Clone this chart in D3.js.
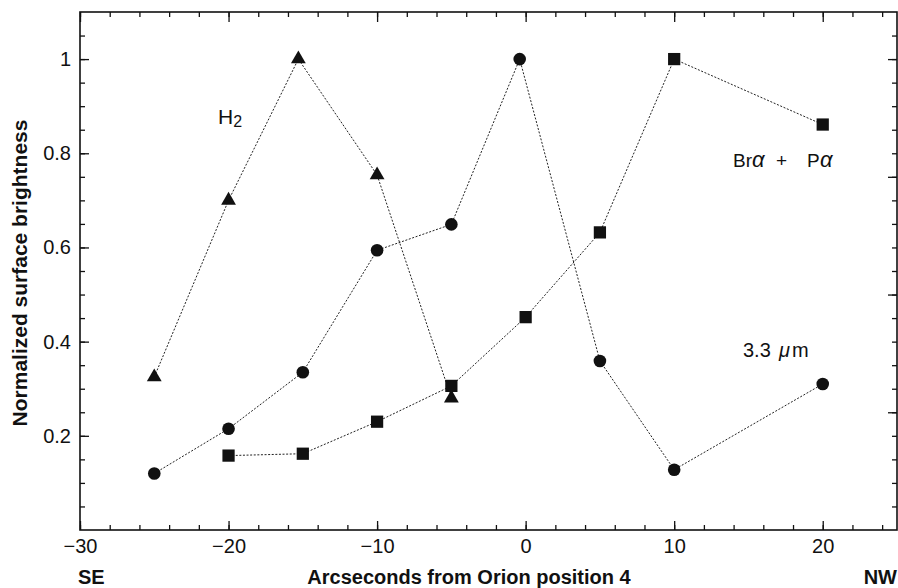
<!DOCTYPE html>
<html>
<head>
<meta charset="utf-8">
<title>Orion position 4</title>
<script src="https://d3js.org/d3.v7.min.js"></script>
<style>
  html, body { margin: 0; padding: 0; background: #fff; }
  svg text { font-family: "Liberation Sans", Arial, Helvetica, sans-serif; fill: #111; }
  .tick line { stroke: #111; stroke-width: 1.3px; }
  .series { fill: none; stroke: #222; stroke-width: 1px; stroke-dasharray: 2,1.6; }
</style>
</head>
<body>
<script>
// values
let h2X = [-25, -20, -15.3, -10, -5];
let h2Y = [0.325, 0.70, 1.0, 0.754, 0.28];

let pahX = [-25, -20, -15, -10, -5, -0.4, 5, 10, 20];
let pahY = [0.12, 0.215, 0.335, 0.594, 0.649, 1.0, 0.359, 0.128, 0.31];

let brX = [-20, -15, -10, -5, 0, 5, 10, 20];
let brY = [0.158, 0.162, 0.23, 0.306, 0.452, 0.632, 1.0, 0.861];

let xTicks = [-30, -20, -10, 0, 10, 20];
let yTicks = [0.2, 0.4, 0.6, 0.8, 1];

let W = 898, H = 588;
let pLeft = 80, pRight = 897, pTop = 12, pBottom = 530;

let svg = d3.select("body").append("svg")
  .attr("width", W)
  .attr("height", H);

let x = d3.scaleLinear().domain([-30, 25]).range([pLeft, pRight]);
let y = d3.scaleLinear().domain([0, 1.1]).range([pBottom, pTop]);

let minorX = d3.range(-30, 25.01, 2);
let minorY = d3.range(0.05, 1.1, 0.05);
let rightMajor = [0.25, 0.5, 0.75, 1.0];

function clean(g) { g.select(".domain").remove(); }

// bottom
svg.append("g").attr("transform", "translate(0," + pBottom + ")")
  .call(d3.axisBottom(x).tickValues(minorX).tickFormat("").tickSize(-5)).call(clean);
svg.append("g").attr("transform", "translate(0," + pBottom + ")")
  .call(d3.axisBottom(x).tickValues(xTicks).tickSize(-9).tickPadding(9)
    .tickFormat(d => d < 0 ? "\u2212" + Math.abs(d) : d))
  .call(clean)
  .selectAll("text").style("font-size", "20px").attr("font-family", null);

// top
svg.append("g").attr("transform", "translate(0," + pTop + ")")
  .call(d3.axisTop(x).tickValues(minorX).tickFormat("").tickSize(-5)).call(clean);
svg.append("g").attr("transform", "translate(0," + pTop + ")")
  .call(d3.axisTop(x).tickValues(xTicks).tickFormat("").tickSize(-10)).call(clean);

// left
svg.append("g").attr("transform", "translate(" + pLeft + ",0)")
  .call(d3.axisLeft(y).tickValues(minorY).tickFormat("").tickSize(-5)).call(clean);
svg.append("g").attr("transform", "translate(" + pLeft + ",0)")
  .call(d3.axisLeft(y).tickValues(yTicks).tickSize(-9).tickPadding(9)
    .tickFormat(d => d === 1 ? "1" : d3.format(".1f")(d)))
  .call(clean)
  .selectAll("text").style("font-size", "20px").attr("font-family", null);

// right
svg.append("g").attr("transform", "translate(" + pRight + ",0)")
  .call(d3.axisRight(y).tickValues(minorY).tickFormat("").tickSize(-5)).call(clean);
svg.append("g").attr("transform", "translate(" + pRight + ",0)")
  .call(d3.axisRight(y).tickValues(rightMajor).tickFormat("").tickSize(-9)).call(clean);

// frame
svg.append("rect")
  .attr("x", pLeft).attr("y", pTop)
  .attr("width", pRight - pLeft).attr("height", pBottom - pTop)
  .attr("fill", "none").attr("stroke", "#111").attr("stroke-width", 1.6);

// series
let line = d3.line().x(d => x(d[0])).y(d => y(d[1]));
let series = [
  { xs: h2X, ys: h2Y, sym: d3.symbolTriangle, size: 95 },
  { xs: pahX, ys: pahY, sym: d3.symbolCircle, size: 125 },
  { xs: brX, ys: brY, sym: d3.symbolSquare, size: 150 }
];

series.forEach(function(s) {
  let pts = s.xs.map((v, i) => [v, s.ys[i]]);
  svg.append("path").attr("class", "series").attr("d", line(pts));
  svg.append("g").selectAll("path")
    .data(pts)
    .join("path")
    .attr("transform", d => "translate(" + x(d[0]) + "," + y(d[1]) + ")")
    .attr("d", d3.symbol().type(s.sym).size(s.size))
    .attr("fill", "#111");
});

// labels
let h2 = svg.append("text").attr("x", 218).attr("y", 124).style("font-size", "21px");
h2.append("tspan").text("H");
h2.append("tspan").attr("dy", 3).style("font-size", "16px").text("2");

let br = svg.append("text").attr("y", 167).style("font-size", "19px");
br.append("tspan").attr("x", 733).text("Br");
br.append("tspan").attr("x", 752).style("font-style", "italic").style("font-size", "22px").text("\u03b1");
br.append("tspan").attr("x", 776).text("+");
br.append("tspan").attr("x", 807).text("P");
br.append("tspan").attr("x", 820).style("font-style", "italic").style("font-size", "22px").text("\u03b1");

let um = svg.append("text").attr("y", 357).style("font-size", "20px");
um.append("tspan").attr("x", 743).text("3.3");
um.append("tspan").attr("x", 779).style("font-style", "italic").text("\u03bc");
um.append("tspan").attr("x", 792).text("m");

// axis titles
svg.append("text")
  .attr("transform", "translate(27,273) rotate(-90)")
  .attr("text-anchor", "middle")
  .style("font-size", "21px").style("font-weight", "bold")
  .text("Normalized surface brightness");

svg.append("text")
  .attr("x", 469).attr("y", 584)
  .attr("text-anchor", "middle")
  .style("font-size", "20px").style("font-weight", "bold")
  .text("Arcseconds from Orion position 4");

svg.append("text").attr("x", 78).attr("y", 584)
  .style("font-size", "20px").style("font-weight", "bold").text("SE");
svg.append("text").attr("x", 897).attr("y", 584).attr("text-anchor", "end")
  .style("font-size", "20px").style("font-weight", "bold").text("NW");
</script>
</body>
</html>
